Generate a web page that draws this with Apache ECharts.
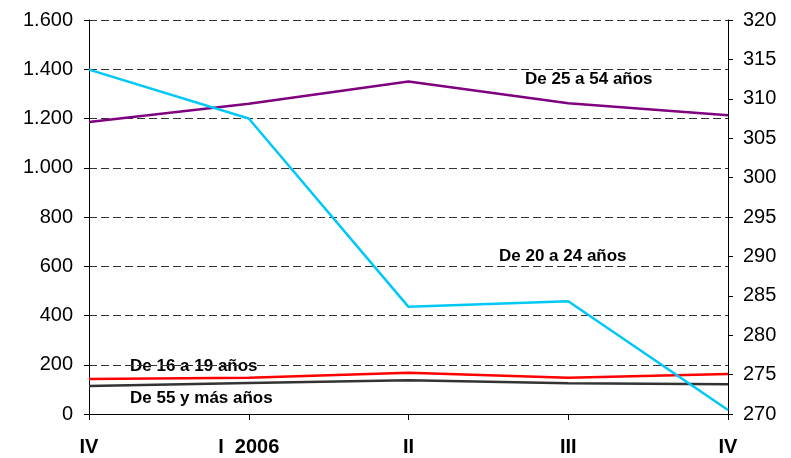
<!DOCTYPE html>
<html>
<head>
<meta charset="utf-8">
<script src="https://cdn.jsdelivr.net/npm/echarts@6/dist/echarts.min.js"></script>
<style>
  html, body { margin: 0; padding: 0; background: #fff; }
  #chart { width: 791px; height: 458px; }
</style>
</head>
<body>
<div id="chart"></div>
<script>
const categories = ['IV', 'I  2006', 'II', 'III', 'IV']
const de25a54 = [1186, 1260, 1350, 1262, 1213]
const de16a19 = [142, 147, 168, 147, 162]
const de55ymas = [114, 126, 137, 125, 121]
// eje derecho
const de20a24 = [313.7, 307.5, 283.6, 284.3, 270.5]

const font = 'Arial, "Liberation Sans", sans-serif'

function fmtMiles(v) {
  return String(v).replace(/\B(?=(\d{3})+(?!\d))/g, '.')
}

function lineSeries(name, data, color, yAxisIndex) {
  return {
    name,
    type: 'line',
    data,
    yAxisIndex,
    symbol: 'none',
    lineStyle: { color, width: 2.5 },
    itemStyle: { color },
    animation: false,
  }
}

const chart = echarts.init(document.getElementById('chart'))
chart.setOption({
  backgroundColor: '#fff',
  grid: { left: 89, right: 63, top: 20, bottom: 44 },
  xAxis: {
    type: 'category',
    data: categories,
    boundaryGap: false,
    axisLine: { lineStyle: { color: '#000', width: 1 } },
    axisTick: { show: true, length: 6, lineStyle: { color: '#000' } },
    axisLabel: { color: '#000', fontFamily: font, fontSize: 20, fontWeight: 'bold', margin: 23 },
  },
  yAxis: [
    {
      type: 'value',
      min: 0,
      max: 1600,
      interval: 200,
      axisLine: { show: true, lineStyle: { color: '#000' } },
      axisTick: { show: true, length: 5, lineStyle: { color: '#000' } },
      axisLabel: { color: '#000', fontFamily: font, fontSize: 20, margin: 16, formatter: fmtMiles },
      splitLine: { show: true, lineStyle: { color: '#333', type: [8, 4], width: 1 } },
    },
    {
      type: 'value',
      min: 270,
      max: 320,
      interval: 5,
      position: 'right',
      axisLine: { show: true, lineStyle: { color: '#000' } },
      axisTick: { show: true, length: 5, lineStyle: { color: '#000' } },
      axisLabel: { color: '#000', fontFamily: font, fontSize: 20, margin: 15 },
      splitLine: { show: false },
    },
  ],
  series: [
    lineSeries('De 25 a 54 años', de25a54, '#800080', 0),
    lineSeries('De 16 a 19 años', de16a19, '#ff0000', 0),
    lineSeries('De 55 y más años', de55ymas, '#333333', 0),
    lineSeries('De 20 a 24 años', de20a24, '#00c8f8', 1),
  ],
  graphic: [
    { type: 'text', left: 525, top: 71, style: { text: 'De 25 a 54 años', font: 'bold 17px ' + font, fill: '#000' } },
    { type: 'text', left: 499, top: 248, style: { text: 'De 20 a 24 años', font: 'bold 17px ' + font, fill: '#000' } },
    { type: 'text', left: 130, top: 358, style: { text: 'De 16 a 19 años', font: 'bold 17px ' + font, fill: '#000' } },
    { type: 'text', left: 130, top: 390, style: { text: 'De 55 y más años', font: 'bold 17px ' + font, fill: '#000' } },
  ],
})
</script>
</body>
</html>
